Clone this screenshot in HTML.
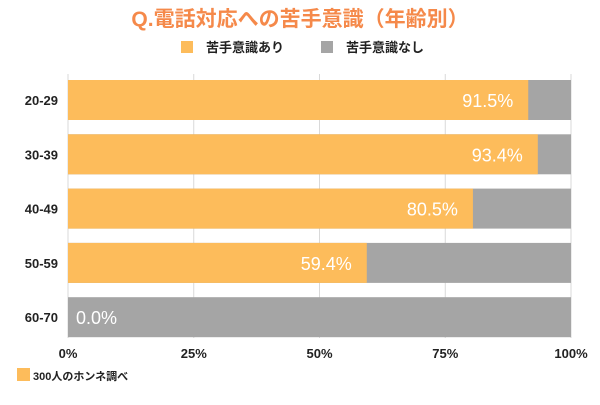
<!DOCTYPE html>
<html><head><meta charset="utf-8"><style>
body{margin:0;background:#fff;font-family:"Liberation Sans","Noto Sans CJK JP",sans-serif;}
svg text{font-family:"Liberation Sans","Noto Sans CJK JP",sans-serif;}
</style></head><body>
<svg width="600" height="400">
<text x="300" y="26" text-anchor="middle" font-size="21" font-weight="bold" fill="#F5894A">Q.電話対応への苦手意識（年齢別）</text>
<g>
<rect x="181" y="41" width="12" height="12" fill="#FDBC5B"/>
<text x="206" y="52" font-size="13" font-weight="bold" fill="#222">苦手意識あり</text>
<rect x="321" y="41" width="12" height="12" fill="#A5A5A5"/>
<text x="346" y="52" font-size="13" font-weight="bold" fill="#222">苦手意識なし</text>
</g>
<g id="plot"></g>
<g>
<rect x="17" y="368" width="13" height="13" fill="#FDBC5B"/>
<text x="33" y="380" font-size="11" font-weight="bold" fill="#222">300人のホンネ調べ</text>
</g>
</svg>
<script>
const categories=["20-29","30-39","40-49","50-59","60-70"];
const yesValues=[91.5,93.4,80.5,59.4,0.0];
const tickLabels=["0%","25%","50%","75%","100%"];
const tickValues=[0,25,50,75,100];
const NS="http://www.w3.org/2000/svg";
const g=document.getElementById("plot");
const x0=68,x1=571,yTop=80,pitch=54.3,bh=40;
const xs=v=>x0+(x1-x0)*v/100;
const yc=i=>yTop+i*pitch;
function mk(t,a){const e=document.createElementNS(NS,t);for(const k in a)e.setAttribute(k,a[k]);g.appendChild(e);return e;}
tickValues.forEach((v,i)=>{
 const l=mk("line",{x1:xs(v),x2:xs(v),y1:74,y2:338,stroke:"#d9d9d9","stroke-width":1});
 
 
 const t=mk("text",{x:xs(v),y:358,"text-anchor":"middle","font-size":"13","font-weight":"bold",fill:"#222"});
 t.textContent=tickLabels[i];
 
 
});
categories.forEach((c,i)=>{
 const y=yc(i);
 const bg=mk("rect",{x:x0,y:y,width:x1-x0,height:bh,fill:"#A5A5A5"});
 
 
 const b=mk("rect",{x:x0,y:y,width:xs(yesValues[i])-x0,height:bh,fill:"#FDBC5B"});
 
 
 const lab=mk("text",{x:58,y:y+bh/2+5,"text-anchor":"end","font-size":"13","font-weight":"bold",fill:"#222"});
 lab.textContent=c;
 
 
 const v=yesValues[i];
 const vt=mk("text",{y:y+bh/2+7,"font-size":"18",fill:"#fff","text-anchor":v>5?"end":"start",x:v>5?xs(v)-15:x0+8});
 vt.textContent=v.toFixed(1)+"%";
 
 
});
</script>
</body></html>
